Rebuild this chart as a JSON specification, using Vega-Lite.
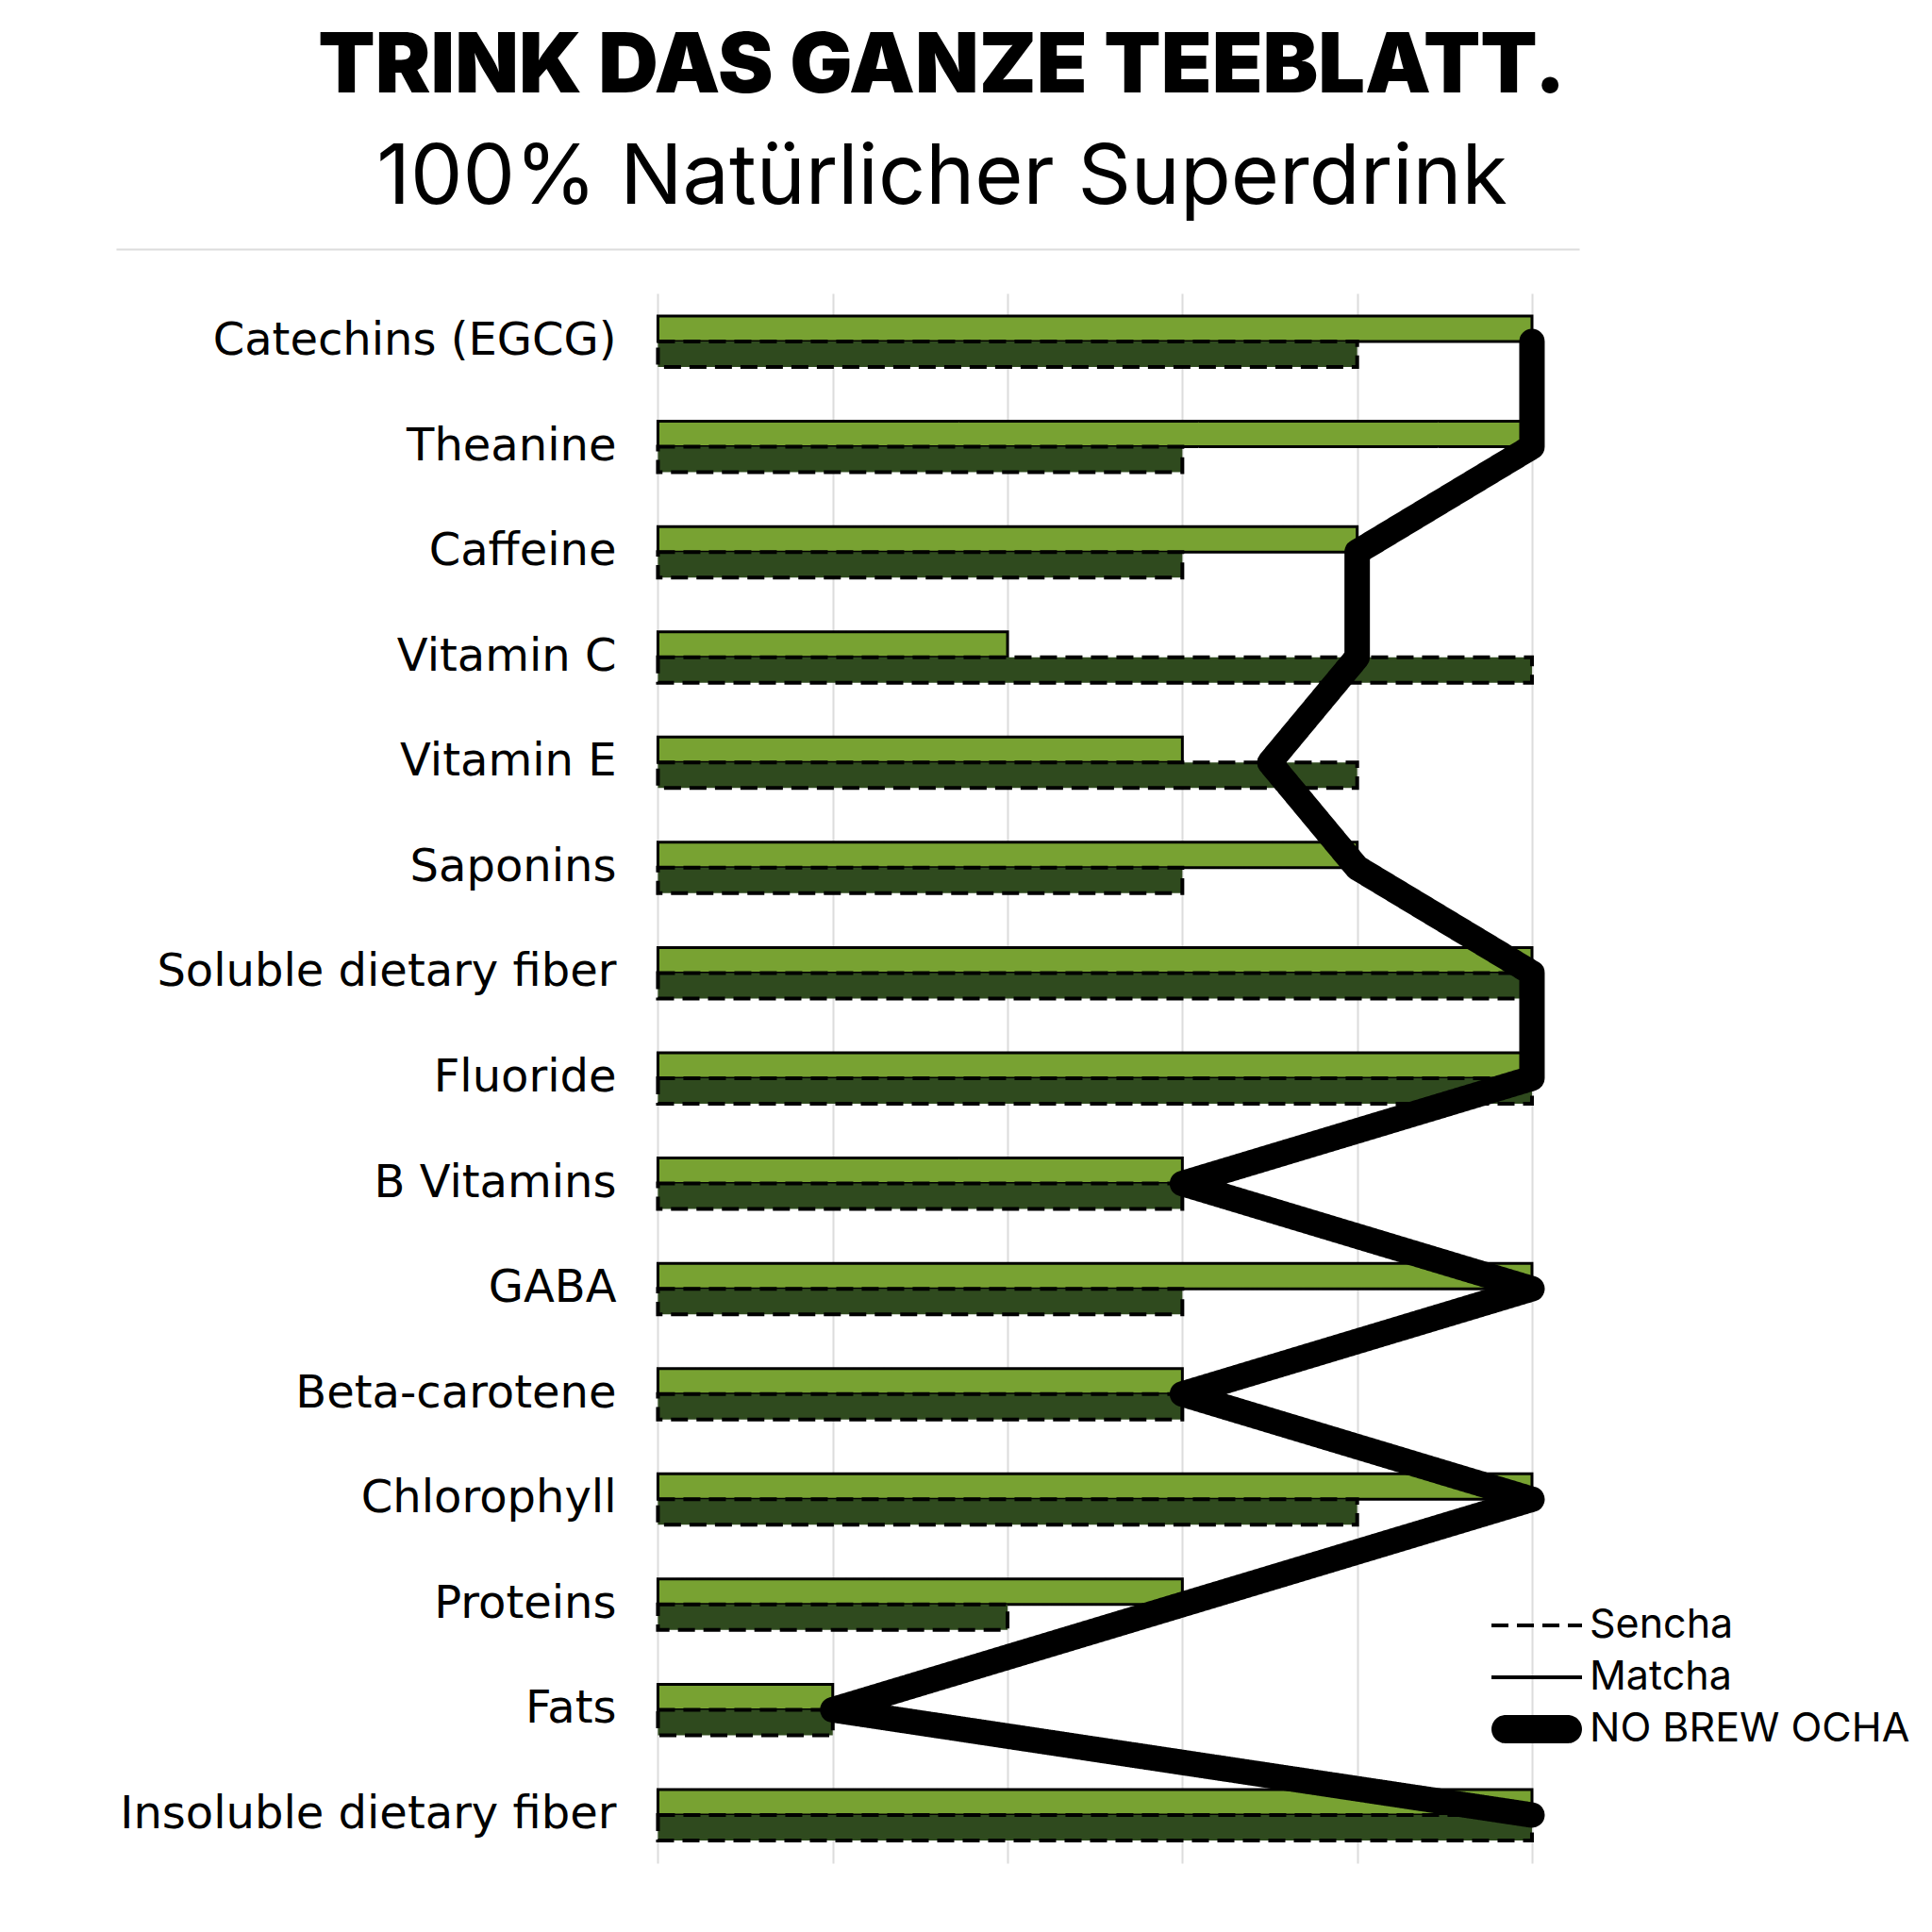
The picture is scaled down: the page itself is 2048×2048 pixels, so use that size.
{
  "$schema": "https://vega.github.io/schema/vega-lite/v6.json",
  "autosize": {"type": "none"},
  "width": 1551,
  "height": 1664,
  "padding": {"left": 123, "top": 311, "right": 374, "bottom": 73},
  "background": "white",
  "title": {
    "text": "TRINK DAS GANZE TEEBLATT.",
    "subtitle": "100% Natürlicher Superdrink",
    "anchor": "middle",
    "frame": "group",
    "dx": 100,
    "offset": 30,
    "font": "Inter",
    "fontSize": 88,
    "fontWeight": 900,
    "color": "black",
    "subtitleFont": "Inter",
    "subtitleFontSize": 88,
    "subtitleFontWeight": 400,
    "subtitleColor": "black",
    "subtitlePadding": 30
  },
  "config": {"view": {"stroke": null}},
  "data": {
    "values": [
      {"idx": 1, "nutrient": "Catechins (EGCG)", "series": "Matcha", "value": 5},
      {"idx": 1, "nutrient": "Catechins (EGCG)", "series": "Sencha", "value": 4},
      {"idx": 1, "nutrient": "Catechins (EGCG)", "series": "NO BREW OCHA", "value": 5},
      {"idx": 2, "nutrient": "Theanine", "series": "Matcha", "value": 5},
      {"idx": 2, "nutrient": "Theanine", "series": "Sencha", "value": 3},
      {"idx": 2, "nutrient": "Theanine", "series": "NO BREW OCHA", "value": 5},
      {"idx": 3, "nutrient": "Caffeine", "series": "Matcha", "value": 4},
      {"idx": 3, "nutrient": "Caffeine", "series": "Sencha", "value": 3},
      {"idx": 3, "nutrient": "Caffeine", "series": "NO BREW OCHA", "value": 4},
      {"idx": 4, "nutrient": "Vitamin C", "series": "Matcha", "value": 2},
      {"idx": 4, "nutrient": "Vitamin C", "series": "Sencha", "value": 5},
      {"idx": 4, "nutrient": "Vitamin C", "series": "NO BREW OCHA", "value": 4},
      {"idx": 5, "nutrient": "Vitamin E", "series": "Matcha", "value": 3},
      {"idx": 5, "nutrient": "Vitamin E", "series": "Sencha", "value": 4},
      {"idx": 5, "nutrient": "Vitamin E", "series": "NO BREW OCHA", "value": 3.5},
      {"idx": 6, "nutrient": "Saponins", "series": "Matcha", "value": 4},
      {"idx": 6, "nutrient": "Saponins", "series": "Sencha", "value": 3},
      {"idx": 6, "nutrient": "Saponins", "series": "NO BREW OCHA", "value": 4},
      {"idx": 7, "nutrient": "Soluble dietary fiber", "series": "Matcha", "value": 5},
      {"idx": 7, "nutrient": "Soluble dietary fiber", "series": "Sencha", "value": 5},
      {"idx": 7, "nutrient": "Soluble dietary fiber", "series": "NO BREW OCHA", "value": 5},
      {"idx": 8, "nutrient": "Fluoride", "series": "Matcha", "value": 5},
      {"idx": 8, "nutrient": "Fluoride", "series": "Sencha", "value": 5},
      {"idx": 8, "nutrient": "Fluoride", "series": "NO BREW OCHA", "value": 5},
      {"idx": 9, "nutrient": "B Vitamins", "series": "Matcha", "value": 3},
      {"idx": 9, "nutrient": "B Vitamins", "series": "Sencha", "value": 3},
      {"idx": 9, "nutrient": "B Vitamins", "series": "NO BREW OCHA", "value": 3},
      {"idx": 10, "nutrient": "GABA", "series": "Matcha", "value": 5},
      {"idx": 10, "nutrient": "GABA", "series": "Sencha", "value": 3},
      {"idx": 10, "nutrient": "GABA", "series": "NO BREW OCHA", "value": 5},
      {"idx": 11, "nutrient": "Beta-carotene", "series": "Matcha", "value": 3},
      {"idx": 11, "nutrient": "Beta-carotene", "series": "Sencha", "value": 3},
      {"idx": 11, "nutrient": "Beta-carotene", "series": "NO BREW OCHA", "value": 3},
      {"idx": 12, "nutrient": "Chlorophyll", "series": "Matcha", "value": 5},
      {"idx": 12, "nutrient": "Chlorophyll", "series": "Sencha", "value": 4},
      {"idx": 12, "nutrient": "Chlorophyll", "series": "NO BREW OCHA", "value": 5},
      {"idx": 13, "nutrient": "Proteins", "series": "Matcha", "value": 3},
      {"idx": 13, "nutrient": "Proteins", "series": "Sencha", "value": 2},
      {"idx": 13, "nutrient": "Proteins", "series": "NO BREW OCHA", "value": 3},
      {"idx": 14, "nutrient": "Fats", "series": "Matcha", "value": 1},
      {"idx": 14, "nutrient": "Fats", "series": "Sencha", "value": 1},
      {"idx": 14, "nutrient": "Fats", "series": "NO BREW OCHA", "value": 1},
      {"idx": 15, "nutrient": "Insoluble dietary fiber", "series": "Matcha", "value": 5},
      {"idx": 15, "nutrient": "Insoluble dietary fiber", "series": "Sencha", "value": 5},
      {"idx": 15, "nutrient": "Insoluble dietary fiber", "series": "NO BREW OCHA", "value": 5}
    ]
  },
  "encoding": {
    "y": {
      "field": "nutrient",
      "type": "nominal",
      "sort": ["Catechins (EGCG)", "Theanine", "Caffeine", "Vitamin C", "Vitamin E", "Saponins", "Soluble dietary fiber", "Fluoride", "B Vitamins", "GABA", "Beta-carotene", "Chlorophyll", "Proteins", "Fats", "Insoluble dietary fiber"],
      "scale": {"paddingInner": 0.516, "paddingOuter": 0.215},
      "axis": {
        "title": null,
        "orient": "left",
        "offset": -574,
        "domain": false,
        "ticks": false,
        "labelPadding": 44,
        "labelFont": "DejaVu Sans",
        "labelFontSize": 48,
        "labelColor": "black",
        "labelLimit": 800
      }
    },
    "x": {
      "field": "value",
      "type": "quantitative",
      "scale": {"domain": [-3.1, 5.27], "nice": false, "zero": false},
      "axis": {
        "title": null,
        "orient": "top",
        "values": [0, 1, 2, 3, 4, 5],
        "labels": false,
        "ticks": false,
        "grid": true,
        "gridColor": "#dcdcdc",
        "gridWidth": 2,
        "domain": true,
        "domainColor": "#dcdcdc",
        "domainWidth": 2,
        "offset": 47
      }
    },
    "strokeDash": {
      "field": "series",
      "type": "nominal",
      "scale": {"type": "ordinal", "domain": ["Sencha", "Matcha", "NO BREW OCHA"], "range": [[18, 9], [1, 0], [1, 0]]},
      "legend": {
        "title": null,
        "orient": "none",
        "legendX": 1480,
        "legendY": 1386,
        "symbolType": "M-2,0H2",
        "symbolSize": 2304,
        "symbolStrokeColor": "black",
        "symbolStrokeWidth": 4,
        "symbolOpacity": 1,
        "labelFont": "Inter",
        "labelFontSize": 43,
        "labelColor": "black",
        "labelOffset": 30,
        "labelLimit": 0,
        "rowPadding": 7,
        "encode": {
          "symbols": {
            "update": {
              "stroke": {"value": "black"},
              "strokeOpacity": {"value": 1},
              "opacity": {"value": 1},
              "size": {"value": 2304},
              "strokeWidth": {"value": 4},
              "fill": {"signal": "datum.value === 'NO BREW OCHA' ? 'black' : 'transparent'"},
              "fillOpacity": {"value": 1},
              "shape": {"signal": "datum.value === 'NO BREW OCHA' ? 'M-1.375,-0.54H1.375A0.54,0.54 0 0 1 1.375,0.54H-1.375A0.54,0.54 0 0 1 -1.375,-0.54Z' : 'M-2,0H2'"}
            }
          }
        }
      }
    }
  },
  "layer": [
    {
      "transform": [{"filter": "datum.series !== 'NO BREW OCHA'"}],
      "mark": {"type": "bar", "stroke": "black"},
      "encoding": {
        "x": {"field": "value", "type": "quantitative"},
        "x2": {"datum": 0},
        "yOffset": {"field": "series", "type": "nominal", "scale": {"domain": ["Matcha", "Sencha"], "paddingInner": 0, "paddingOuter": 0}},
        "fill": {"field": "series", "type": "nominal", "scale": {"domain": ["Matcha", "Sencha"], "range": ["#78a232", "#2f4a1e"]}, "legend": null},
        "strokeWidth": {"field": "series", "type": "nominal", "scale": {"type": "ordinal", "domain": ["Matcha", "Sencha"], "range": [3, 4]}, "legend": null}
      }
    },
    {
      "transform": [{"filter": "datum.series === 'NO BREW OCHA'"}],
      "mark": {"type": "line", "stroke": "black", "strokeWidth": 27, "strokeCap": "round", "strokeJoin": "round"},
      "encoding": {
        "order": {"field": "idx", "type": "quantitative"}
      }
    }
  ]
}
